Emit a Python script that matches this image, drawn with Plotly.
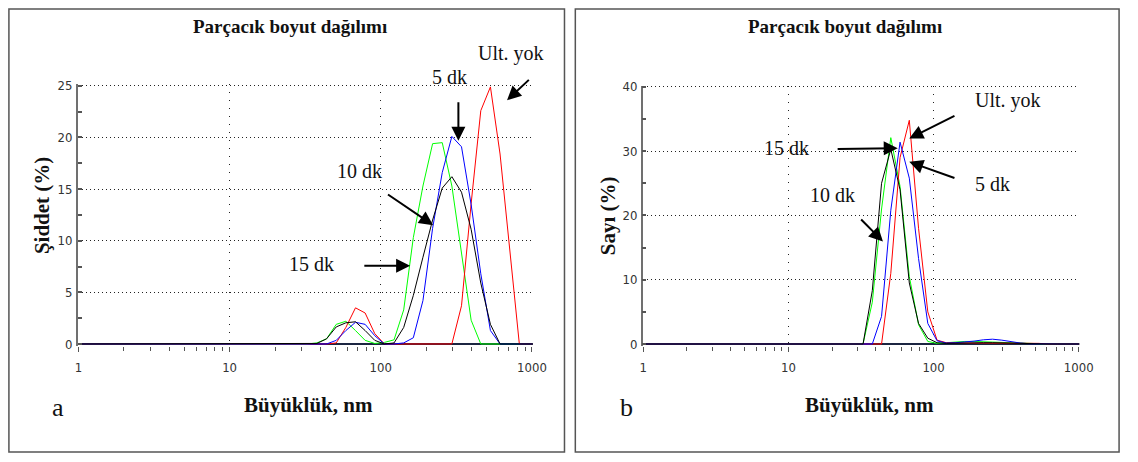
import plotly.graph_objects as go

W, H = 1138, 462

# Size classes (nm)
sizes_nm = [0.9649, 1.117, 1.294, 1.499, 1.736, 2.01, 2.328, 2.696, 3.122, 3.615,
            4.187, 4.849, 5.615, 6.503, 7.531, 8.721, 10.1, 11.7, 13.54, 15.69,
            18.17, 21.04, 24.36, 28.21, 32.67, 37.84, 43.82, 50.75, 58.77, 68.06,
            78.82, 91.28, 105.7, 122.4, 141.8, 164.2, 190.1, 220.2, 255.0, 295.3,
            342.0, 396.1, 458.7, 531.2, 615.1, 712.4, 825.0, 955.4, 1106]

# Panel a: intensity (%)
int_ult = [0, 0, 0, 0, 0, 0, 0, 0, 0, 0,
           0, 0, 0, 0, 0, 0, 0, 0, 0, 0,
           0, 0, 0, 0, 0, 0, 0, 0.1, 1.6, 3.5,
           3.0, 1.0, 0, 0, 0, 0, 0, 0, 0, 0,
           3.7, 13.6, 22.6, 24.9, 18.4, 9.2, 0, 0, 0]
int_5 = [0, 0, 0, 0, 0, 0, 0, 0, 0, 0,
         0, 0, 0, 0, 0, 0, 0, 0, 0, 0,
         0, 0, 0, 0, 0, 0, 0, 0.35, 1.3, 2.1,
         1.9, 0.8, 0, 0, 0.1, 0.6, 4.2, 11.2, 16.6, 20.1,
         19.1, 13.5, 6.8, 1.3, 0, 0, 0, 0, 0]
int_10 = [0, 0, 0, 0, 0, 0, 0, 0, 0, 0,
          0, 0, 0, 0, 0, 0, 0, 0, 0, 0,
          0, 0, 0, 0, 0, 0.05, 0.5, 1.65, 2.05, 2.15,
          1.3, 0.35, 0, 0.1, 1.6, 4.7, 8.4, 12.0, 15.1, 16.2,
          14.7, 11.1, 5.9, 1.9, 0, 0, 0, 0, 0]
int_15 = [0, 0, 0, 0, 0, 0, 0, 0, 0, 0,
          0, 0, 0, 0, 0, 0, 0, 0, 0, 0,
          0, 0, 0, 0, 0, 0.1, 0.5, 1.9, 2.2, 1.3,
          0.35, 0.05, 0.15, 0.4, 3.3, 10.3, 15.3, 19.4, 19.5, 15.3,
          8.6, 2.3, 0, 0, 0, 0, 0, 0, 0]

# Panel b: number (%)
num_ult = [0, 0, 0, 0, 0, 0, 0, 0, 0, 0,
           0, 0, 0, 0, 0, 0, 0, 0, 0, 0,
           0, 0, 0, 0, 0, 0, 0, 11, 29, 34.8,
           18, 5, 0.6, 0.2, 0.15, 0.15, 0.15, 0.15, 0.15, 0.15,
           0.15, 0.15, 0.1, 0.1, 0, 0, 0, 0, 0]
num_5 = [0, 0, 0, 0, 0, 0, 0, 0, 0, 0,
         0, 0, 0, 0, 0, 0, 0, 0, 0, 0,
         0, 0, 0, 0, 0, 0, 4.3, 20.8, 31.4, 25.8,
         13.3, 3.2, 0.5, 0.15, 0.2, 0.3, 0.45, 0.65, 0.75, 0.6,
         0.35, 0.15, 0.05, 0, 0, 0, 0, 0, 0]
num_10 = [0, 0, 0, 0, 0, 0, 0, 0, 0, 0,
          0, 0, 0, 0, 0, 0, 0, 0, 0, 0,
          0, 0, 0, 0, 0, 8.3, 25.0, 30.3, 24.0, 9.5,
          3.2, 0.9, 0.2, 0.1, 0.15, 0.2, 0.2, 0.2, 0.2, 0.15,
          0.1, 0.05, 0, 0, 0, 0, 0, 0, 0]
num_15 = [0, 0, 0, 0, 0, 0, 0, 0, 0, 0,
          0, 0, 0, 0, 0, 0, 0, 0, 0, 0,
          0, 0, 0, 0, 0, 6.5, 21.0, 32.1, 24.5, 10.5,
          3.0, 0.4, 0.1, 0.2, 0.35, 0.4, 0.4, 0.35, 0.25, 0.15,
          0.1, 0.05, 0, 0, 0, 0, 0, 0, 0]

series_names = ["Ult. yok", "5 dk", "10 dk", "15 dk"]
series_colors = ["#ff0000", "#0000ff", "#000000", "#00ff00"]
x_tickvals = [1, 10, 100, 1000]
x_ticktext = ["1", "10", "100", "1000"]
x_minor_ticks = [2, 3, 4, 5, 6, 7, 8, 9,
                 20, 30, 40, 50, 60, 70, 80, 90,
                 200, 300, 400, 500, 600, 700, 800, 900]
yA_tickvals = [0, 5, 10, 15, 20, 25]
yB_tickvals = [0, 10, 20, 30, 40]

title_text = "Parçacık boyut dağılımı"
x_title = "Büyüklük, nm"
yA_title = "Şiddet (%)"
yB_title = "Sayı (%)"


def px(x):
    return x / W


def py(y):
    return 1 - y / H


fig = go.Figure()

draw_order = [3, 0, 1, 2]  # green, red, blue, black on top
a_data = [int_ult, int_5, int_10, int_15]
b_data = [num_ult, num_5, num_10, num_15]
for i in draw_order:
    fig.add_trace(go.Scatter(x=sizes_nm, y=a_data[i], mode="lines", name=series_names[i],
                             line=dict(color=series_colors[i], width=1),
                             xaxis="x", yaxis="y", showlegend=False, hoverinfo="skip"))
for i in draw_order:
    fig.add_trace(go.Scatter(x=sizes_nm, y=b_data[i], mode="lines", name=series_names[i],
                             line=dict(color=series_colors[i], width=1),
                             xaxis="x2", yaxis="y2", showlegend=False, hoverinfo="skip"))

tick_font = dict(family="Liberation Sans Narrow, Arial Narrow, DejaVu Sans Condensed, sans-serif",
                 size=13, color="#333333")
serif = "Liberation Serif, Times New Roman, serif"


def xaxis_cfg(domain, anchor):
    return dict(type="log", range=[-0.004, 3.004], domain=domain, anchor=anchor,
                tickvals=x_tickvals, ticktext=x_ticktext, tickfont=tick_font,
                ticks="outside", ticklen=5, tickcolor="#555555", tickwidth=1.2,
                minor=dict(tickvals=x_minor_ticks, ticks="outside", ticklen=4,
                           tickcolor="#555555", tickwidth=1.2, showgrid=False),
                showline=False, showgrid=True, gridcolor="#222222", gridwidth=1,
                griddash="1px,7px", zeroline=False, ticklabelstandoff=4,
                fixedrange=True)


def yaxis_cfg(domain, anchor, rng, tickvals, minor_dtick):
    return dict(range=rng, domain=domain, anchor=anchor, tickvals=tickvals,
                tickfont=tick_font, ticks="inside", ticklen=4, tickcolor="#555555",
                tickwidth=1.5,
                minor=dict(dtick=minor_dtick, ticks="inside", ticklen=4,
                           tickcolor="#555555", tickwidth=1.5, showgrid=False),
                showline=True, linecolor="#707070", linewidth=1.5,
                showgrid=True, gridcolor="#222222", gridwidth=1, griddash="1px,3px",
                zeroline=True, zerolinecolor="#1c2541", zerolinewidth=2,
                ticklabelstandoff=1, fixedrange=True)


fig.update_layout(
    width=W, height=H,
    margin=dict(l=0, r=0, t=0, b=0),
    paper_bgcolor="white", plot_bgcolor="white",
    showlegend=False,
    xaxis=xaxis_cfg([px(75.9), px(537.6)], "y"),
    yaxis=yaxis_cfg([py(349.1), py(80.4)], "x", [-0.2, 25.15], yA_tickvals, 2.5),
    xaxis2=xaxis_cfg([px(649.4), px(1092.6)], "y2"),
    yaxis2=yaxis_cfg([py(349.0), py(81.7)], "x2", [-0.3, 40.2], yB_tickvals, 5),
)

# Panel frames
for x0, x1 in [(6, 570), (581, 1133)]:
    fig.add_shape(type="rect", xref="paper", yref="paper",
                  x0=px(x0), x1=px(x1), y0=py(458), y1=py(3),
                  line=dict(color="#555555", width=1.5), fillcolor="rgba(0,0,0,0)")

annotations = []


def add_text(x, y, text, size, bold=False, angle=0):
    t = f"<b>{text}</b>" if bold else text
    annotations.append(dict(x=px(x), y=py(y), xref="paper", yref="paper", text=t,
                            showarrow=False, xanchor="center", yanchor="middle",
                            textangle=angle,
                            font=dict(family=serif, size=size, color="#111111")))


def add_arrow(hx, hy, tx, ty):
    annotations.append(dict(x=px(hx), y=py(hy), xref="paper", yref="paper", text="",
                            showarrow=True, ax=tx - hx, ay=ty - hy,
                            arrowhead=2, arrowsize=1.4, arrowwidth=2,
                            arrowcolor="#000000", standoff=0, startstandoff=0))


# Titles and axis titles
add_text(291, 21, title_text, 19, bold=True)
add_text(855, 21, title_text, 19, bold=True)
add_text(310, 410, x_title, 21, bold=True)
add_text(880, 410, x_title, 21, bold=True)
add_text(39, 205, yA_title, 21, bold=True, angle=-90)
add_text(615, 215, yB_title, 21, bold=True, angle=-90)
add_text(56, 412, "a", 26)
add_text(633, 412, "b", 26)

# Panel a labels
add_text(516, 49, "Ult. yok", 20)
add_text(453, 73, "5 dk", 20)
add_text(362, 169, "10 dk", 20)
add_text(313, 265, "15 dk", 20)
add_arrow(511.7, 96.7, 535, 75)
add_arrow(462.3, 138.3, 462.3, 98.3)
add_arrow(436.7, 225, 390, 193.3)
add_arrow(413.3, 266.7, 366, 266.7)

# Panel b labels
add_text(1020, 97, "Ult. yok", 20)
add_text(1004, 183, "5 dk", 20)
add_text(795, 146, "15 dk", 20)
add_text(842, 194, "10 dk", 20)
add_arrow(920, 136, 966.7, 112.7)
add_arrow(920, 160, 966.7, 176.7)
add_arrow(908.3, 146, 846.7, 146.7)
add_arrow(893.3, 241.7, 870, 218.3)

fig.update_layout(annotations=annotations)

fig.write_html("out.html", config=dict(displayModeBar=False))
